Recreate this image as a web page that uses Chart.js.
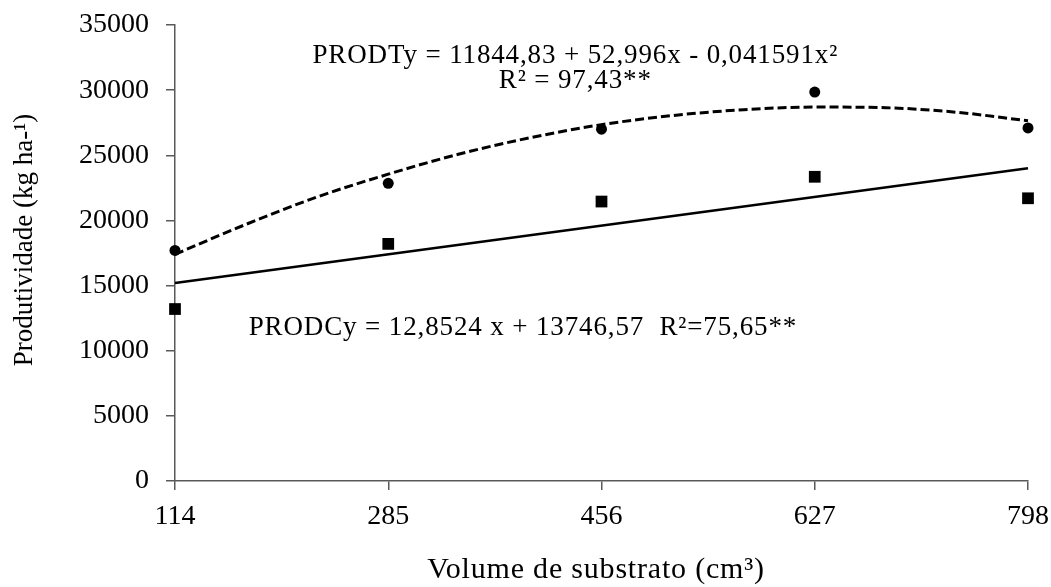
<!DOCTYPE html>
<html>
<head>
<meta charset="utf-8">
<script src="https://cdn.jsdelivr.net/npm/chart.js@4.4.1/dist/chart.umd.min.js"></script>
<style>
  html, body { margin: 0; padding: 0; background: #ffffff; }
  #wrap { width: 1051px; height: 587px; }
</style>
</head>
<body>
<div id="wrap"><canvas id="c" width="1051" height="587"></canvas></div>
<script>
// ---- data ----
const xTicks = [114, 285, 456, 627, 798];
const prodT = [17700, 22850, 27000, 29850, 27100];   // circles
const prodC = [13200, 18200, 21450, 23350, 21700];   // squares
// fitted curves
const fitTx = [114, 171, 228, 285, 342, 399, 456, 513, 570, 627, 684, 741, 798];
const fitTy = [17400, 19700, 21800, 23550, 25100, 26350, 27350, 28050, 28500, 28700, 28650, 28300, 27650];
const fitCx = [114, 798];
const fitCy = [15200, 24000];
const yTicks = [0, 5000, 10000, 15000, 20000, 25000, 30000, 35000];

const eqT1 = 'PRODTy = 11844,83 + 52,996x - 0,041591x²';
const eqT2 = 'R² = 97,43**';
const eqC = 'PRODCy = 12,8524 x + 13746,57  R²=75,65**';
const xTitle = 'Volume de substrato (cm³)';
const yTitle = 'Produtividade (kg ha-¹)';

const FONT = '"Liberation Serif", "Times New Roman", serif';
const AXIS = '#595959';

const toXY = (xs, ys) => xs.map((x, i) => ({ x: x, y: ys[i] }));

const noPad = (s) => { s.paddingTop = 0; s.paddingBottom = 0; s.paddingLeft = 0; s.paddingRight = 0; };

const textPlugin = {
  id: 'texts',
  afterDraw(chart) {
    const ctx = chart.ctx;
    const sx = chart.scales.x, sy = chart.scales.y;
    ctx.save();
    ctx.fillStyle = '#000';
    ctx.font = '27px ' + FONT;
    ctx.textAlign = 'center';
    ctx.textBaseline = 'alphabetic';
    if ('letterSpacing' in ctx) ctx.letterSpacing = '0.87px';
    // equations (positioned in data coordinates)
    ctx.fillText(eqT1, sx.getPixelForValue(435), sy.getPixelForValue(32084));
    ctx.fillText(eqT2, sx.getPixelForValue(435), sy.getPixelForValue(30165));
    ctx.fillText(eqC, sx.getPixelForValue(393), sy.getPixelForValue(11206));
    // axis titles
    ctx.textBaseline = 'middle';
    ctx.font = '30px ' + FONT;
    if ('letterSpacing' in ctx) ctx.letterSpacing = '0.8px';
    ctx.fillText(xTitle, 596, 570);
    ctx.font = '27px ' + FONT;
    if ('letterSpacing' in ctx) ctx.letterSpacing = '0px';
    ctx.translate(25, 240);
    ctx.rotate(-Math.PI / 2);
    ctx.fillText(yTitle, 0, 0);
    ctx.restore();
  }
};

new Chart(document.getElementById('c'), {
  type: 'scatter',
  data: {
    datasets: [
      {
        label: 'PRODT',
        data: toXY(xTicks, prodT),
        pointStyle: 'circle',
        pointRadius: 5.5,
        backgroundColor: '#000',
        borderColor: '#000',
        borderWidth: 0,
        showLine: false,
        clip: false,
        order: 1
      },
      {
        label: 'PRODC',
        data: toXY(xTicks, prodC),
        pointStyle: 'rect',
        pointRadius: 8.3,
        backgroundColor: '#000',
        borderColor: '#000',
        borderWidth: 0,
        showLine: false,
        clip: false,
        order: 1
      },
      {
        label: 'fitT',
        data: toXY(fitTx, fitTy),
        showLine: true,
        pointRadius: 0,
        borderColor: '#000',
        borderWidth: 3,
        borderDash: [9, 4],
        cubicInterpolationMode: 'monotone',
        fill: false,
        clip: false,
        order: 2
      },
      {
        label: 'fitC',
        data: toXY(fitCx, fitCy),
        showLine: true,
        pointRadius: 0,
        borderColor: '#000',
        borderWidth: 2.5,
        fill: false,
        clip: false,
        order: 2
      }
    ]
  },
  options: {
    responsive: false,
    animation: false,
    devicePixelRatio: 1,
    layout: { padding: { left: 0, top: 25, right: 23, bottom: 0 } },
    plugins: {
      legend: { display: false },
      tooltip: { enabled: false },
      title: { display: false }
    },
    scales: {
      x: {
        type: 'linear',
        min: xTicks[0],
        max: xTicks[xTicks.length - 1],
        afterBuildTicks: (s) => { s.ticks = xTicks.map(v => ({ value: v })); },
        afterFit: (s) => { s.height = 106; noPad(s); },
        border: { display: true, color: AXIS, width: 1.5 },
        grid: { display: true, drawOnChartArea: false, drawTicks: true, tickLength: 9, color: AXIS, lineWidth: 1.5 },
        ticks: { color: '#000', font: { family: FONT, size: 28 }, padding: 10, maxRotation: 0, autoSkip: false,
                 callback: (v) => String(v) }
      },
      y: {
        type: 'linear',
        min: yTicks[0],
        max: yTicks[yTicks.length - 1],
        afterBuildTicks: (s) => { s.ticks = yTicks.map(v => ({ value: v })); },
        afterFit: (s) => { s.width = 175; noPad(s); },
        border: { display: true, color: AXIS, width: 1.5 },
        grid: { display: true, drawOnChartArea: false, drawTicks: true, tickLength: 9, color: AXIS, lineWidth: 1.5 },
        ticks: { color: '#000', font: { family: FONT, size: 28 }, padding: 17, callback: (v) => String(v) }
      }
    }
  },
  plugins: [textPlugin]
});
</script>
</body>
</html>
